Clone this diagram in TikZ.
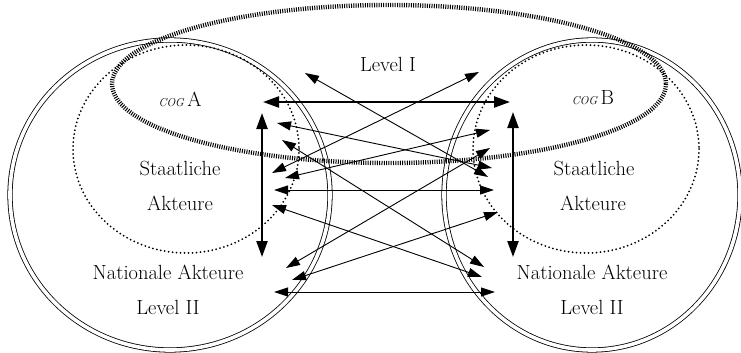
\documentclass[tikz,border=0pt]{standalone}
\usetikzlibrary{arrows.meta}
\begin{document}
\begin{tikzpicture}[x=1pt,y=-1pt,
  ring/.style={draw=black, line width=0.8pt, double=white, double distance=3.6pt},
  dotring/.style={draw=black, line width=2pt, dash pattern=on 0pt off 4pt, line cap=round},
  hatch/.style={draw=black, line width=4.4pt, dash pattern=on 1pt off 1.3pt},
  thinarr/.style={draw=black, line width=0.9pt, {Triangle[length=14pt,width=9pt]}-{Triangle[length=14pt,width=9pt]}},
  thickarr/.style={draw=black, line width=2.3pt, {Triangle[length=16pt,width=11pt]}-{Triangle[length=16pt,width=11pt]}},
  lbl/.style={font=\fontsize{20.5}{24}\selectfont, text=black, inner sep=0pt}
]
\useasboundingbox (0,0) rectangle (741,353);

% double circles
\draw[ring] (170,195) ellipse [x radius=160, y radius=155];
\draw[ring] (592,195) ellipse [x radius=148, y radius=155];

% dotted circles
\draw[dotring] (186,149) ellipse [x radius=113, y radius=104];
\draw[dotring] (586,149) ellipse [x radius=113, y radius=104];

% hatched ellipse
\draw[hatch] (389,84) ellipse [x radius=277, y radius=79];

% labels
\node[lbl] (lvlI) at (388,64) {Level I};
\node[lbl] (cogA) at (180,99) {{\fontsize{11.5}{13}\selectfont\itshape COG}\,A};
\node[lbl] (cogB) at (593,98) {{\fontsize{11.5}{13}\selectfont\itshape COG}\,B};
\node[lbl] (stA) at (180,168) {Staatliche};
\node[lbl] (akA) at (180,203) {Akteure};
\node[lbl] (natA) at (168,272) {Nationale Akteure};
\node[lbl] (lvA) at (168,307) {Level II};
\node[lbl] (stB) at (594,168) {Staatliche};
\node[lbl] (akB) at (593,203) {Akteure};
\node[lbl] (natB) at (592,272) {Nationale Akteure};
\node[lbl] (lvB) at (592,307) {Level II};

% arrow end points
\coordinate (tA1) at (263,102); \coordinate (tB1) at (510,102);
\coordinate (vA1) at (262,113); \coordinate (vA2) at (262,257);
\coordinate (vB1) at (513,112); \coordinate (vB2) at (513,257);
\coordinate (hA1) at (274,190); \coordinate (hB1) at (494,190);
\coordinate (hA2) at (274,292); \coordinate (hB2) at (495,292);
\coordinate (d1a) at (305,73);  \coordinate (d1b) at (488,177);
\coordinate (d2a) at (277,123); \coordinate (d2b) at (492,168);
\coordinate (d3a) at (282,140); \coordinate (d3b) at (484,267);
\coordinate (d4a) at (272,205); \coordinate (d4b) at (482,277);
\coordinate (e1a) at (272,173); \coordinate (e1b) at (479,72);
\coordinate (e2a) at (285,178); \coordinate (e2b) at (490,130);
\coordinate (e3a) at (286,268); \coordinate (e3b) at (490,148);
\coordinate (e4a) at (292,280); \coordinate (e4b) at (498,212);

% arrows
\draw[thickarr] (tA1) -- (tB1);
\draw[thickarr] (vA1) -- (vA2);
\draw[thickarr] (vB1) -- (vB2);
\draw[thinarr] (hA1) -- (hB1);
\draw[thinarr] (hA2) -- (hB2);
\draw[thinarr] (d1a) -- (d1b);
\draw[thinarr] (d2a) -- (d2b);
\draw[thinarr] (d3a) -- (d3b);
\draw[thinarr] (d4a) -- (d4b);
\draw[thinarr] (e1a) -- (e1b);
\draw[thinarr] (e2a) -- (e2b);
\draw[thinarr] (e3a) -- (e3b);
\draw[thinarr] (e4a) -- (e4b);
\end{tikzpicture}
\end{document}
